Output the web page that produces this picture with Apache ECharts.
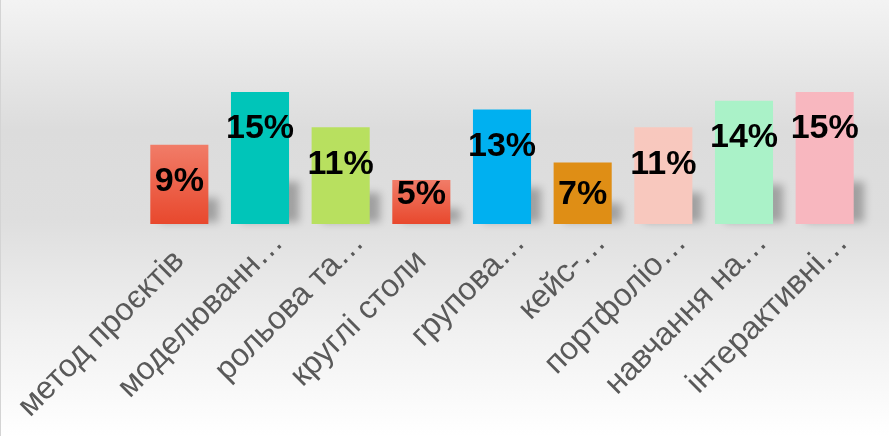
<!DOCTYPE html>
<html>
<head>
<meta charset="utf-8">
<script src="https://cdn.jsdelivr.net/npm/echarts@6/dist/echarts.min.js"></script>
<style>
  html, body { margin: 0; padding: 0; }
  #chart { width: 889px; height: 436px; box-sizing: border-box; border-left: 1px solid #d4d4d4; }
</style>
</head>
<body>
<div id="chart"></div>
<script>
// методи навчання
var categories = ['метод проєктів', 'моделюванн…', 'рольова та…', 'круглі столи', 'групова…',
  'кейс-…', 'портфоліо…', 'навчання на…', 'інтерактивні…'];
var values = [9, 15, 11, 5, 13, 7, 11, 14, 15];
var barColors = ['red', '#00c5b9', '#b8e05f', 'red', '#00b0f0', '#df8e15', '#f8c8be', '#aaf2c8', '#f8b7bf'];

var gridTop = 92, gridBottom = 212, yMax = 15;
var pxPerUnit = (436 - gridTop - gridBottom) / yMax;

var redGradient = new echarts.graphic.LinearGradient(0, 0, 0, 1, [
  { offset: 0, color: '#f17c68' },
  { offset: 1, color: '#e8482d' }
]);

var chart = echarts.init(document.getElementById('chart'));

var barData = values.map(function (v, i) {
  // label sits near the top, but is pushed up on short bars
  var shift = Math.min(0, v * pxPerUnit - 31 - 35);
  return {
    value: v,
    itemStyle: { color: barColors[i] === 'red' ? redGradient : barColors[i] },
    label: { offset: [0, shift] }
  };
});

// shortened names stick out a bit further, like in the original
var axisData = categories.map(function (name) {
  var cut = name.slice(-1) === '…';
  return { value: name, textStyle: { padding: cut ? [0, -26, 0, 0] : [0, 0, 0, 0] } };
});

var option = {
  backgroundColor: new echarts.graphic.LinearGradient(0, 0, 0, 1, [
    { offset: 0, color: '#f3f3f3' },
    { offset: 0.3, color: '#dcdcdc' },
    { offset: 0.5, color: '#dedede' },
    { offset: 0.75, color: '#f0f0f0' },
    { offset: 1, color: '#ffffff' }
  ]),
  grid: { left: 138, right: 24, top: gridTop, bottom: gridBottom },
  xAxis: {
    type: 'category',
    data: axisData,
    axisLine: { show: false },
    axisTick: { show: false },
    axisLabel: {
      rotate: 45,
      interval: 0,
      margin: 32,
      color: '#595959',
      fontSize: 32,
      fontFamily: 'Liberation Sans, Arial, sans-serif'
    }
  },
  yAxis: {
    type: 'value',
    min: 0,
    max: yMax,
    show: false,
    splitLine: { show: false }
  },
  series: [
    {
      // perspective shadow behind the bars
      type: 'custom',
      z: 1,
      silent: true,
      data: values.map(function (v, i) { return [i, v]; }),
      renderItem: function (params, api) {
        var base = api.coord([api.value(0), 0]);
        var top = api.coord([api.value(0), api.value(1)]);
        var band = api.size([1, 0])[0];
        var barW = band * 0.72;
        var h = (base[1] - top[1]) * 0.3;
        var off = 3000;
        return {
          type: 'rect',
          shape: { x: base[0] - barW / 2 + 10 - off, y: base[1] - h - 2, width: barW, height: h },
          style: {
            fill: '#000',
            shadowColor: 'rgba(0,0,0,0.28)',
            shadowBlur: 8,
            shadowOffsetX: off,
            shadowOffsetY: 0
          }
        };
      }
    },
    {
      type: 'bar',
      z: 2,
      barCategoryGap: '28%',
      data: barData,
      label: {
        show: true,
        position: 'insideTop',
        distance: 20,
        formatter: '{c}%',
        color: '#000',
        fontSize: 34,
        fontWeight: 'bold',
        fontFamily: 'Liberation Sans, Arial, sans-serif'
      }
    }
  ]
};
option && chart.setOption(option);
</script>
</body>
</html>
